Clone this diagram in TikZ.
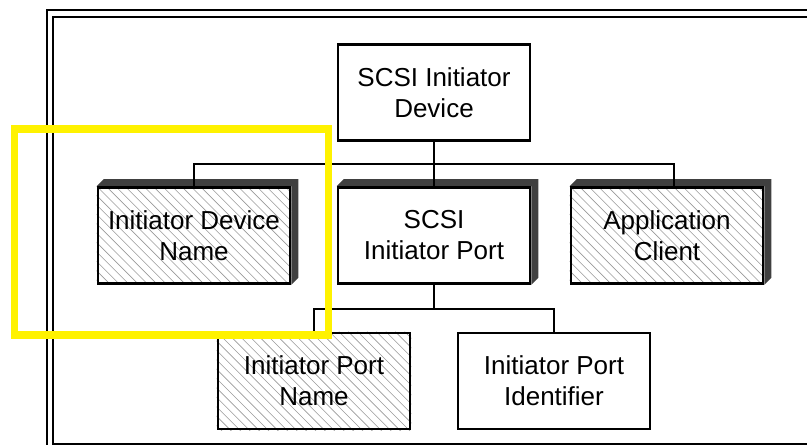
\documentclass[tikz,border=0pt]{standalone}
\usepackage{fontspec}
\setmainfont{Liberation Sans}
\usepackage{tikz}
\usetikzlibrary{backgrounds}

\begin{document}
\begin{tikzpicture}[
        x=1pt, y=-1pt,
        box/.style={rectangle, draw, line width=2.6pt, minimum width=192pt, minimum height=96pt,
            inner sep=0pt, align=center, font=\fontsize{26}{31}\selectfont},
        hatch/.style={draw=black!40, line width=0.6pt},
        shade/.style={fill=black!75},
        link/.style={line width=2pt},
        frame/.style={line width=2pt},
        marker/.style={draw=yellow, line width=7.5pt}
    ]
        \useasboundingbox (0,0) rectangle (807,445);
        % double frame, cut by the page
        \begin{scope}
            \clip (0,0) rectangle (807,445);
            \draw[frame] (830,10) -| (47,470);
            \draw[frame] (830,17) -| (53,444) -- (830,444);
        \end{scope}
        \node[box] (device) at (434,92.5) {SCSI Initiator\\Device};
        \node[box] (devname) at (194,235.5) {Initiator Device\\Name};
        \node[box] (port) at (434,235.5) {SCSI\\Initiator Port};
        \node[box] (client) at (667,235.5) {Application\\Client};
        \node[box] (portname) at (314,381) {Initiator Port\\Name};
        \node[box] (portid) at (554,381) {Initiator Port\\Identifier};
        \begin{scope}[on background layer]
            % raised edges
            \foreach \n in {devname, port, client}
                \fill[shade] (\n.north west) -- ++(7,-7) -- ([shift={(7,-7)}]\n.north east)
                    -- ([shift={(7,-7)}]\n.south east) -- (\n.south east) -- (\n.north east) -- cycle;
            % hatching
            \foreach \n in {devname, client, portname} {
                \begin{scope}
                    \clip (\n.south west) rectangle (\n.north east);
                    \foreach \k in {-11,...,21}
                        \draw[hatch] ([xshift=\k*9.4pt]\n.north west) -- ++(110,110);
                \end{scope}
            }
        \end{scope}
        \coordinate (bus) at (434,164);
        \coordinate (portbus) at (434,309);
        \draw[link] (device) -- (port);
        \draw[link] (devname.north) |- (bus) -| ([xshift=7]client.north);
        \draw[link] (port.south) -- (portbus);
        \draw[link] (portname.north) |- (portbus) -| (portid.north);
        \draw[marker] (14.5,129) rectangle (328.5,335);
    \end{tikzpicture}
\end{document}
